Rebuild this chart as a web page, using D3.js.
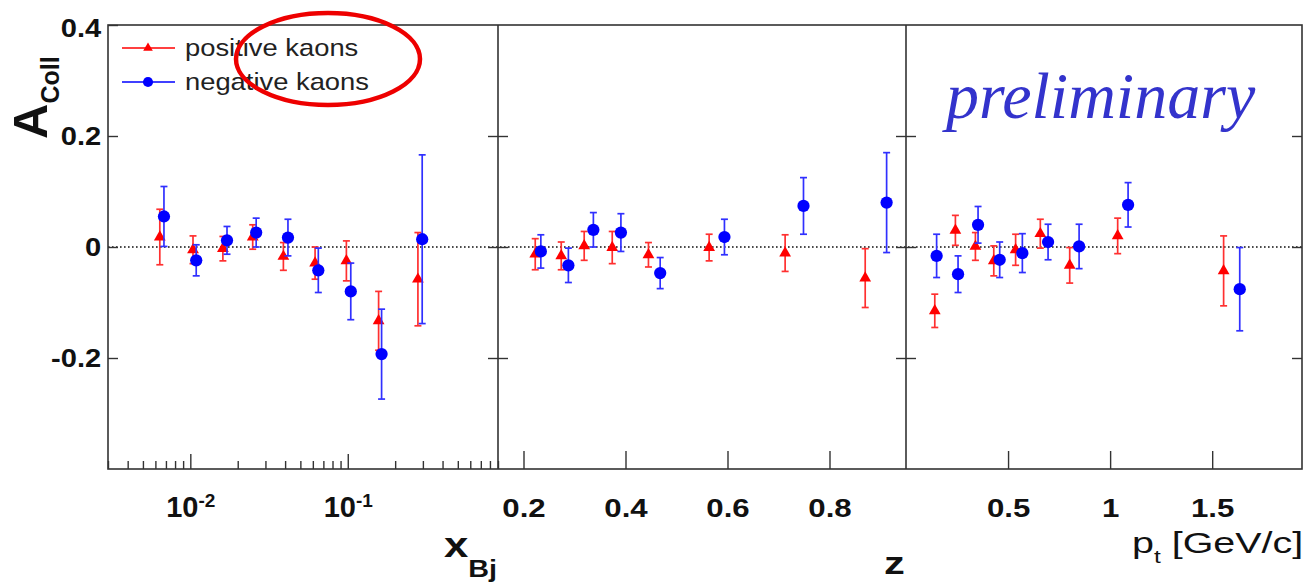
<!DOCTYPE html>
<html>
<head>
<meta charset="utf-8">
<script src="https://cdn.jsdelivr.net/npm/d3@7"></script>
<style>
  body { margin: 0; background: #fff; }
  svg { display: block; font-family: "Liberation Sans", Arial, sans-serif; }
</style>
</head>
<body>
<div id="chart"></div>
<script>
// ---- data ----
// x_Bj panel
const xbjPosX   = [0.0064, 0.0104, 0.0161, 0.0249, 0.039, 0.062, 0.098, 0.157, 0.279];
const xbjPosA   = [0.018, -0.005, -0.003, 0.018, -0.017, -0.029, -0.025, -0.133, -0.058];
const xbjPosErr = [0.05, 0.025, 0.022, 0.022, 0.025, 0.029, 0.036, 0.053, 0.084];
const xbjNegX   = [0.0068, 0.0109, 0.0171, 0.0262, 0.0417, 0.065, 0.1045, 0.164, 0.297];
const xbjNegA   = [0.055, -0.024, 0.012, 0.026, 0.017, -0.042, -0.08, -0.193, 0.014];
const xbjNegErr = [0.054, 0.028, 0.025, 0.026, 0.033, 0.04, 0.051, 0.081, 0.152];

// z panel
const zPosX   = [0.223, 0.274, 0.319, 0.374, 0.445, 0.564, 0.713, 0.870];
const zPosA   = [-0.013, -0.016, 0.002, -0.001, -0.014, -0.001, -0.011, -0.056];
const zPosErr = [0.028, 0.025, 0.026, 0.029, 0.022, 0.024, 0.033, 0.053];
const zNegX   = [0.234, 0.288, 0.337, 0.391, 0.468, 0.594, 0.749, 0.912];
const zNegA   = [-0.008, -0.033, 0.031, 0.026, -0.047, 0.018, 0.074, 0.08];
const zNegErr = [0.03, 0.031, 0.031, 0.034, 0.028, 0.032, 0.051, 0.09];

// p_t panel
const ptPosX   = [0.141, 0.242, 0.340, 0.430, 0.537, 0.658, 0.802, 1.037, 1.556];
const ptPosA   = [-0.115, 0.03, 0.001, -0.025, -0.005, 0.024, -0.033, 0.02, -0.043];
const ptPosErr = [0.03, 0.027, 0.025, 0.027, 0.028, 0.026, 0.032, 0.032, 0.063];
const ptNegX   = [0.150, 0.255, 0.353, 0.459, 0.570, 0.696, 0.848, 1.088, 1.635];
const ptNegA   = [-0.016, -0.049, 0.04, -0.023, -0.011, 0.009, 0.001, 0.076, -0.076];
const ptNegErr = [0.039, 0.033, 0.033, 0.032, 0.035, 0.032, 0.04, 0.04, 0.075];

// ticks and labels
const yTicks  = [-0.2, 0, 0.2, 0.4];
const zTicks  = [0.2, 0.4, 0.6, 0.8];
const ptTicks = [0.5, 1, 1.5];
const seriesLabels = ["positive kaons", "negative kaons"];

const app = {
  chartSpecs: {
    width: 1309, height: 582,
    top: 25, bottom: 469,
    left: 108, right: 1302,
    splits: [498, 906]
  },
  colors: { pos: "#ff0000", neg: "#0000ff", posBar: "#ff3030", negBar: "#3030ff" },
  svgEl: null,
  y: null,

  initialize: () => {
    const { width, height, top, bottom, left, right, splits } = app.chartSpecs;
    app.svgEl = d3.select("#chart").append("svg").attr("width", width).attr("height", height);

    app.y = d3.scaleLinear().domain([-0.4, 0.4]).range([bottom, top]);

    const panels = [
      {
        x: d3.scaleLog().domain([0.003, 0.9]).range([left, splits[0]]),
        log: true,
        pos: d3.zip(xbjPosX, xbjPosA, xbjPosErr), neg: d3.zip(xbjNegX, xbjNegA, xbjNegErr)
      },
      {
        x: d3.scaleLinear().domain([0.15, 0.95]).range([splits[0], splits[1]]),
        ticks: zTicks,
        pos: d3.zip(zPosX, zPosA, zPosErr), neg: d3.zip(zNegX, zNegA, zNegErr)
      },
      {
        x: d3.scaleLinear().domain([0, 1.94]).range([splits[1], right]),
        ticks: ptTicks,
        pos: d3.zip(ptPosX, ptPosA, ptPosErr), neg: d3.zip(ptNegX, ptNegA, ptNegErr)
      }
    ];

    // dotted zero line
    app.svgEl.append("line")
      .attr("x1", left).attr("x2", right)
      .attr("y1", app.y(0)).attr("y2", app.y(0))
      .attr("stroke", "#111").attr("stroke-width", 1.6)
      .attr("stroke-dasharray", "1.6,2.4");

    panels.forEach((p, i) => app.drawPanel(p, i));
    app.drawFrame(panels);
    app.drawLegend();
    app.drawTitles();
  },

  drawFrame: (panels) => {
    const svg = app.svgEl;
    const { top, bottom, left, right } = app.chartSpecs;
    const frame = svg.append("g").attr("stroke", "#333").attr("stroke-width", 1.6).attr("fill", "none");
    frame.append("rect").attr("x", left).attr("y", top).attr("width", right - left).attr("height", bottom - top);
    panels.slice(1).forEach(p => {
      frame.append("line").attr("x1", p.x.range()[0]).attr("x2", p.x.range()[0])
        .attr("y1", top).attr("y2", bottom);
    });
  },

  drawPanel: (p, i) => {
    const svg = app.svgEl;
    const y = app.y;
    const x = p.x;
    const { bottom } = app.chartSpecs;
    const [x0, x1] = x.range();

    // y ticks on both sides, labels only on the first panel
    const yl = svg.append("g").attr("transform", `translate(${x0},0)`)
      .call(d3.axisLeft(y).tickValues(i === 0 ? yTicks : yTicks.slice(0, 3))
        .tickSize(-10).tickPadding(6)
        .tickFormat(d => i === 0 ? (d === 0 ? "0" : d.toFixed(1)) : ""));
    const yr = svg.append("g").attr("transform", `translate(${x1},0)`)
      .call(d3.axisRight(y).tickValues(yTicks.slice(0, 3)).tickSize(-10).tickFormat(""));
    [yl, yr].forEach(g => {
      g.select(".domain").remove();
      g.selectAll("line").attr("stroke", "#333").attr("stroke-width", 1.4);
    });
    yl.selectAll("text")
      .attr("font-size", 26).attr("font-weight", "bold").attr("fill", "#111")
      .attr("font-family", "Liberation Sans, Arial, sans-serif")
      .attr("transform", "scale(1.12,1)")
      .attr("dy", d => d === 0.4 ? "0.45em" : "0.34em");

    // x axis
    if (p.log) {
      const all = x.ticks();
      const majors = all.filter(v => Math.abs(Math.log10(v) - Math.round(Math.log10(v))) < 1e-6);
      const minors = all.filter(v => !majors.includes(v));
      const gmin = svg.append("g").attr("transform", `translate(0,${bottom})`)
        .call(d3.axisBottom(x).tickValues(minors).tickSize(-8).tickFormat(""));
      const gmaj = svg.append("g").attr("transform", `translate(0,${bottom})`)
        .call(d3.axisBottom(x).tickValues(majors).tickSize(-15).tickPadding(27).tickFormat(""));
      gmaj.selectAll(".tick text").each(function (d) {
        const t = d3.select(this);
        t.text("10");
        t.append("tspan").attr("dy", "-0.5em").attr("font-size", 19).text(Math.round(Math.log10(d)));
      });
      gmaj.selectAll("text").attr("font-size", 29).attr("font-weight", "bold").attr("fill", "#111")
        .attr("font-family", "Liberation Sans, Arial, sans-serif");
      [gmin, gmaj].forEach(g => {
        g.select(".domain").remove();
        g.selectAll("line").attr("stroke", "#333").attr("stroke-width", 1.4);
      });
    } else {
      const gx = svg.append("g").attr("transform", `translate(0,${bottom})`)
        .call(d3.axisBottom(x).tickValues(p.ticks).tickSize(-18).tickPadding(30).tickFormat(d => String(d)));
      gx.select(".domain").remove();
      gx.selectAll("line").attr("stroke", "#333").attr("stroke-width", 1.4);
      gx.selectAll("text").attr("font-size", 26).attr("font-weight", "bold").attr("fill", "#111")
        .attr("font-family", "Liberation Sans, Arial, sans-serif")
        .attr("transform", "scale(1.2,1)");
    }

    // data: positive first, negative on top
    app.drawSeries(x, p.pos, app.colors.pos, app.colors.posBar, d3.symbolTriangle, 60);
    app.drawSeries(x, p.neg, app.colors.neg, app.colors.negBar, d3.symbolCircle, 118);
  },

  drawSeries: (x, rows, color, barColor, shape, size) => {
    const y = app.y;
    const pts = rows.map(([v, a, e]) => ({ v, a, e }));
    const g = app.svgEl.append("g");
    const bars = g.append("g").attr("stroke", barColor).attr("stroke-width", 1.7)
      .selectAll("g").data(pts).join("g");
    bars.append("line")
      .attr("x1", d => x(d.v)).attr("x2", d => x(d.v))
      .attr("y1", d => y(d.a - d.e)).attr("y2", d => y(d.a + d.e));
    bars.append("line")
      .attr("x1", d => x(d.v) - 3.5).attr("x2", d => x(d.v) + 3.5)
      .attr("y1", d => y(d.a + d.e)).attr("y2", d => y(d.a + d.e));
    bars.append("line")
      .attr("x1", d => x(d.v) - 3.5).attr("x2", d => x(d.v) + 3.5)
      .attr("y1", d => y(d.a - d.e)).attr("y2", d => y(d.a - d.e));
    g.append("g").selectAll("path").data(pts).join("path")
      .attr("transform", d => `translate(${x(d.v)},${y(d.a)})`)
      .attr("d", d3.symbol(shape, size))
      .attr("fill", color);
  },

  drawLegend: () => {
    const svg = app.svgEl;
    const entries = [
      { label: seriesLabels[0], color: app.colors.pos, shape: d3.symbolTriangle, size: 40, y: 48 },
      { label: seriesLabels[1], color: app.colors.neg, shape: d3.symbolCircle, size: 80, y: 82 }
    ];
    const lg = svg.append("g").selectAll("g").data(entries).join("g")
      .attr("transform", d => `translate(122,${d.y})`);
    lg.append("line").attr("x1", 0).attr("x2", 53).attr("stroke", d => d.color).attr("stroke-width", 1.5);
    lg.append("path").attr("transform", "translate(26,0)")
      .attr("d", d => d3.symbol(d.shape, d.size)()).attr("fill", d => d.color);
    lg.append("text").attr("transform", "translate(63,8) scale(1.14,1)")
      .attr("font-size", 24).attr("fill", "#222").text(d => d.label);

    // hand-drawn red ellipse around the legend
    svg.append("ellipse").attr("cx", 328).attr("cy", 59).attr("rx", 92).attr("ry", 46)
      .attr("fill", "none").attr("stroke", "#ee0000").attr("stroke-width", 4.5);

    // preliminary stamp
    svg.append("text").attr("x", 946).attr("y", 118)
      .attr("font-family", "Liberation Serif, Times New Roman, serif")
      .attr("font-style", "italic").attr("font-size", 66).attr("fill", "#3333cc")
      .text("preliminary");
  },

  drawTitles: () => {
    const svg = app.svgEl;

    // y title A_Coll
    const yt = svg.append("text").attr("transform", "translate(47,139) rotate(-90)")
      .attr("font-weight", "bold").attr("fill", "#111");
    yt.append("tspan").attr("font-size", 49).text("A");
    yt.append("tspan").attr("font-size", 25).attr("dy", 12).text("Coll");

    // x_Bj
    const xt = svg.append("text").attr("transform", "translate(444,557) scale(1.25,1)")
      .attr("font-weight", "bold").attr("fill", "#111");
    xt.append("tspan").attr("font-size", 35).text("x");
    xt.append("tspan").attr("font-size", 23).attr("dy", 20).text("Bj");

    // z
    svg.append("text").attr("transform", "translate(884,574) scale(1.3,1)")
      .attr("font-weight", "bold").attr("font-size", 32).attr("fill", "#111").text("z");

    // p_t [GeV/c]
    const pt = svg.append("text").attr("transform", "translate(1132,553) scale(1.36,1)")
      .attr("fill", "#111");
    pt.append("tspan").attr("font-size", 29).text("p");
    pt.append("tspan").attr("font-size", 18).attr("dy", 10).text("t");
    pt.append("tspan").attr("font-size", 29).attr("dy", -10).text(" [GeV/c]");
  }
};

document.addEventListener("DOMContentLoaded", app.initialize);
</script>
</body>
</html>
